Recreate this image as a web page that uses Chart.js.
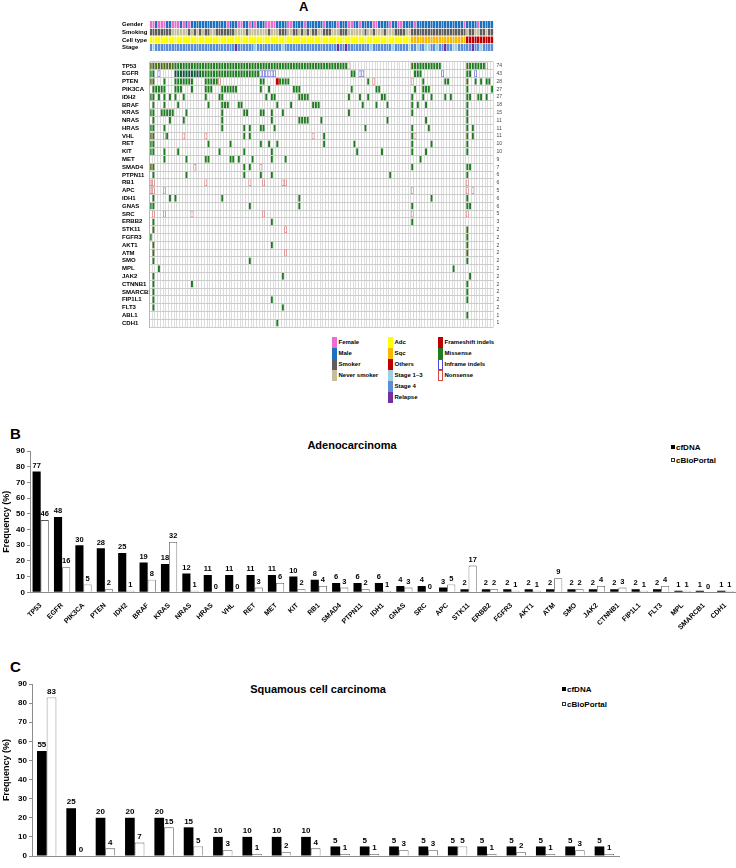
<!DOCTYPE html>
<html>
<head>
<meta charset="utf-8">
<script src="https://cdn.jsdelivr.net/npm/chart.js"></script>
<style>
  body { margin: 0; background: #fff; }
  #page { position: relative; width: 736px; height: 868px; overflow: hidden; background: #fff; }
  canvas, .t, .sw { position: absolute; }
  .t { font-family: 'Liberation Sans', Arial, sans-serif; white-space: nowrap; color: #000; }
  .lg { font-size: 6px; font-weight: bold; line-height: 11px; }
  .sq { display: inline-block; width: 4px; height: 4px; margin-right: 1px; vertical-align: 1px; box-sizing: border-box; }
</style>
</head>
<body>
<div id="page">
  <div class="t" style="left:299px;top:-1px;font-size:13px;font-weight:bold;">A</div>
  <canvas id="anno" width="394" height="38" style="left:120px;top:17px;"></canvas>
  <canvas id="heat" width="394" height="277" style="left:120px;top:56px;"></canvas>
  <div id="legendA"></div>

  <div class="t" style="left:10px;top:425px;font-size:15px;font-weight:bold;">B</div>
  <div class="t" style="left:352px;top:439px;font-size:11px;font-weight:bold;transform:translateX(-50%);">Adenocarcinoma</div>
  <div class="t" style="left:671px;top:443px;font-size:8px;font-weight:bold;"><span class="sq" style="background:#000"></span>cfDNA</div>
  <div class="t" style="left:671px;top:456px;font-size:8px;font-weight:bold;"><span class="sq" style="border:0.7px solid #333;background:#fff"></span>cBioPortal</div>
  <canvas id="adc" width="736" height="200" style="left:0;top:440px;"></canvas>

  <div class="t" style="left:10px;top:658px;font-size:15px;font-weight:bold;">C</div>
  <div class="t" style="left:318px;top:683px;font-size:11px;font-weight:bold;transform:translateX(-50%);">Squamous cell carcinoma</div>
  <div class="t" style="left:562px;top:685px;font-size:8px;font-weight:bold;"><span class="sq" style="background:#000"></span>cfDNA</div>
  <div class="t" style="left:562px;top:700px;font-size:8px;font-weight:bold;"><span class="sq" style="border:0.7px solid #333;background:#fff"></span>cBioPortal</div>
  <canvas id="sqc" width="736" height="192" style="left:0;top:676px;"></canvas>
</div>
<script>
// ---- panel A data ----
const SAMPLE_COUNT = 125;
const annoRowNames = ['Gender', 'Smoking', 'Cell type', 'Stage'];
// segments: letter = category, numbers = sample columns
const genderRow = 'F0-1 F3-5 F8-10 F12 F14 F28 F32-33 F36 F38 F42-45 F50-51 F56 F63 F68 F72-73 F76 F81-82 F87 F90-91 F96 F114 F119';
const smokingRow = 'S0-7 S14 S16 S18 S20-21 S24-30 S35 S43 S47-49 S52-53 S55 S57 S59-60 S63-65 S69-71 S78 S81 S85 S89-92 S95-114 S116-117 S120-121 S123-124';
const cellTypeRow = 'A0-94 Q95-114 O115-124';
const stageRow = 'E1 R31 E38 E48 R68 R71 E80 E88 E94 E97 E100-101 E104 R107 E110-111 R117 E120';

const genes = ['TP53','EGFR','PTEN','PIK3CA','IDH2','BRAF','KRAS','NRAS','HRAS','VHL','RET','KIT','MET','SMAD4','PTPN11','RB1','APC','IDH1','GNAS','SRC','ERBB2','STK11','FGFR3','AKT1','ATM','SMO','MPL','JAK2','CTNNB1','SMARCB1','FIP1L1','FLT3','ABL1','CDH1'];
const geneFreq = [74,43,28,27,27,18,15,11,11,11,10,10,9,7,6,6,5,6,6,5,3,2,2,2,2,2,2,2,2,2,2,2,1,1];
// M missense, N nonsense, I inframe indel, F frameshift indel, D missense+frameshift, T missense+inframe
const mutationRows = [
  'D0-8 M9-71 N72 D95 M96-105 D115 M116-121 N122',
  'M0-1 I3 T9-18 M19-39 I40-45 M73-74 I76-77 M96-98 I106 M115-116 I118',
  'D0-1 M5 M9-15 M20-24 N25 M40-41 F46 M47-50 M79 N81 N95 M99 M107-108 D115 M118 M120 M122-123',
  'M1-5 M9-11 M15 M20-22 M26-31 M40 M43 M52-54 M73 M82-83 M96 M99-101 M115 M124',
  'M0-1 M3 M5 M7 M9 M12 M20 M25-26 M42 M44-45 M54-57 M72 M76 M79 M84-85 M95 M99 M102 M107 M109 M115-116 M119-120 M122',
  'M1 M5 M10 M21 M26-28 M32-33 M46 M51 M59-61 M77 M82 M86 M95 M97 M100 M115',
  'M0-1 M4-8 M13 M26 M34-35 M40-41 M44 M48 M72 M95 M115',
  'M1 M7 M12 M26 M44 M54-57 M62 M86 M100 M115',
  'M0-1 M5 M26 M34 M36 M40-41 M45 M78 M95 M101 M115 M117',
  'D0-1 N5 M6 N12 N20 M34 M36 N59 M63 M95 N96 D115 M117',
  'M0-1 M21 M29 M40 M43 M46 M63 M74 M95 M102 M115',
  'M0-1 M5 M10 M25 M34 M44 M75 M84 M95 M100 M115',
  'M5 M13 M20-21 M29-30 M32 M37 M44 M49 M98',
  'D0-1 N16 M34 M36 N40 M95 M115-116',
  'M1 M13 M34 M40 M44 M87 M115',
  'N0-1 N20 N36 N41 N48-49 N115',
  'N0-1 N5 N95 N115 N117',
  'M1 M7 M9 M26 M54 M102 M115',
  'M0-1 M36 M54 M95 M115-116',
  'N1 N5 N15 N41 N95 N115',
  'M1 M44 M95',
  'D1 N49 D115',
  'M0 M115',
  'D1 M44 M115',
  'D1 N49 D115',
  'M1 M36 M115',
  'M3 M110',
  'M1 M48 M116',
  'M1 M15 M115',
  'M1 M115',
  'M1 M44 M115',
  'M1 M48',
  'M115',
  'M46'
];

// ---- panel B data ----
const adcGenes = ['TP53','EGFR','PIK3CA','PTEN','IDH2','BRAF','KRAS','NRAS','HRAS','VHL','RET','MET','KIT','RB1','SMAD4','PTPN11','IDH1','GNAS','SRC','APC','STK11','ERBB2','FGFR3','AKT1','ATM','SMO','JAK2','CTNNB1','FIP1L1','FLT3','MPL','SMARCB1','CDH1'];
const adcCfdna = [77,48,30,28,25,19,18,12,11,11,11,11,10,8,6,6,6,4,4,3,2,2,2,2,2,2,2,2,2,2,1,1,1];
const adcCbio  = [46,16,5,2,1,8,32,1,0,0,3,6,2,4,3,2,1,3,0,5,17,2,1,1,9,2,4,3,1,4,1,0,1];

// ---- panel C data ----
const sqcGenes = ['TP53','IDH2','EGFR','PTEN','PIK3CA','BRAF','HRAS','VHL','RET','KIT','KRAS','NRAS','MET','SMAD4','APC','IDH1','GNAS','SRC','ERBB2','MPL'];
const sqcCfdna = [55,25,20,20,20,15,10,10,10,10,5,5,5,5,5,5,5,5,5,5];
const sqcCbio  = [83,0,4,7,15,5,3,1,2,4,1,1,3,3,5,1,2,1,3,1];

const FONT = "'Liberation Sans', Arial, sans-serif";
Chart.defaults.font.family = FONT;
Chart.defaults.color = '#000';

function parseSpec(spec) {
  const out = [];
  spec.trim().split(/\s+/).forEach(tok => {
    const code = tok[0];
    const parts = tok.slice(1).split('-').map(Number);
    const end = parts.length > 1 ? parts[1] : parts[0];
    for (let c = parts[0]; c <= end; c++) out.push([code, c]);
  });
  return out;
}
function expandRow(spec, fill) {
  const arr = new Array(SAMPLE_COUNT).fill(fill);
  parseSpec(spec).forEach(([code, c]) => { arr[c] = code; });
  return arr;
}

// ---- annotation chart ----
const annoCats = [
  {row: 'Gender', code: 'F', label: 'Female', color: '#ee6ccd'},
  {row: 'Gender', code: 'M', label: 'Male', color: '#1c72bf'},
  {row: 'Smoking', code: 'S', label: 'Smoker', color: '#5e5e5e'},
  {row: 'Smoking', code: 'N', label: 'Never smoker', color: '#c6bd9c'},
  {row: 'Cell type', code: 'A', label: 'Adc', color: '#ffff00'},
  {row: 'Cell type', code: 'Q', label: 'Sqc', color: '#f9b800'},
  {row: 'Cell type', code: 'O', label: 'Others', color: '#c00000'},
  {row: 'Stage', code: 'E', label: 'Stage 1~3', color: '#9ed0e4'},
  {row: 'Stage', code: 'A', label: 'Stage 4', color: '#5b8ed6'},
  {row: 'Stage', code: 'R', label: 'Relapse', color: '#7030a0'}
];
const annoValues = {
  'Gender': expandRow(genderRow, 'M'),
  'Smoking': expandRow(smokingRow, 'N'),
  'Cell type': expandRow(cellTypeRow, 'A'),
  'Stage': expandRow(stageRow, 'A')
};
const annoDatasets = annoCats.map(cat => ({
  label: cat.label,
  backgroundColor: cat.color,
  borderWidth: 0,
  data: annoValues[cat.row].map((v, c) => v === cat.code ? {y: cat.row, x: [c, c + 1]} : null).filter(Boolean)
}));

new Chart(document.getElementById('anno'), {
  type: 'bar',
  data: {labels: annoRowNames, datasets: annoDatasets},
  options: {
    indexAxis: 'y', responsive: false, animation: false, devicePixelRatio: 1,
    layout: {padding: {left: 2, right: 20.5, top: 3.3, bottom: 3}},
    datasets: {bar: {grouped: false, categoryPercentage: 1, barPercentage: 0.9}},
    plugins: {legend: {display: false}, tooltip: {enabled: false}},
    scales: {
      x: {type: 'linear', min: 0, max: SAMPLE_COUNT, ticks: {display: false, stepSize: 1},
          grid: {color: 'rgba(255,255,255,0.45)', drawTicks: false, z: 1}, border: {display: false},
          afterFit(s) { s.height = 0; }},
      y: {ticks: {font: {size: 6, weight: 'bold'}, crossAlign: 'far', padding: 0, autoSkip: false},
          grid: {display: false, drawTicks: false}, border: {display: false},
          afterFit(s) { s.width = 27.3; }}
    }
  }
});

// ---- mutation heatmap ----
const mutTypes = [
  {code: 'M', label: 'Missense', bg: '#1f7d1f', border: 'rgba(255,255,255,0.25)', bw: {left: 0.4, right: 0.4}},
  {code: 'D', label: 'Missense + Frameshift', bg: '#4a6a16', border: 'rgba(255,255,255,0.2)', bw: {left: 0.4, right: 0.4}},
  {code: 'T', label: 'Missense + Inframe', bg: '#0e5a3c', border: 'rgba(255,255,255,0.2)', bw: {left: 0.4, right: 0.4}},
  {code: 'F', label: 'Frameshift indels', bg: '#c00000', border: '#c00000', bw: 0},
  {code: 'I', label: 'Inframe indels', bg: '#ffffff', border: '#6a6ae0', bw: 0.8},
  {code: 'N', label: 'Nonsense', bg: '#ffffff', border: '#de7474', bw: 0.8}
];
const cells = [];
mutationRows.forEach((spec, g) => {
  parseSpec(spec).forEach(([code, c]) => cells.push({gene: genes[g], code, c}));
});
const heatDatasets = mutTypes.map(t => ({
  label: t.label,
  backgroundColor: t.bg,
  borderColor: t.border,
  borderWidth: t.bw,
  borderSkipped: false,
  data: cells.filter(k => k.code === t.code).map(k => ({y: k.gene, x: [k.c, k.c + 1]}))
}));

new Chart(document.getElementById('heat'), {
  type: 'bar',
  data: {labels: genes, datasets: heatDatasets},
  options: {
    indexAxis: 'y', responsive: false, animation: false, devicePixelRatio: 1,
    layout: {padding: {left: 2, right: 0, top: 3.7, bottom: 4.3}},
    datasets: {bar: {grouped: false, categoryPercentage: 1, barPercentage: 0.86}},
    plugins: {legend: {display: false}, tooltip: {enabled: false}},
    scales: {
      x: {type: 'linear', min: 0, max: SAMPLE_COUNT, ticks: {display: false, stepSize: 1},
          grid: {color: '#dcdcdc', drawTicks: false}, border: {display: false},
          afterFit(s) { s.height = 0; }},
      y: {ticks: {font: {size: 6, weight: 'bold'}, crossAlign: 'far', padding: 0, autoSkip: false},
          grid: {color: '#cccccc', drawTicks: false}, border: {color: '#bbbbbb'},
          afterFit(s) { s.width = 27.3; }},
      y2: {type: 'category', labels: geneFreq.map(String), position: 'right', offset: true,
           ticks: {font: {size: 5}, color: '#444', padding: 3, autoSkip: false},
           grid: {display: false, drawTicks: false}, border: {display: false},
           afterFit(s) { s.width = 20.5; }}
    }
  }
});

// legend for panel A
const legendCols = [
  {x: 332, items: [['Female', '#ee6ccd'], ['Male', '#1c72bf'], ['Smoker', '#5e5e5e'], ['Never smoker', '#c6bd9c']]},
  {x: 388, items: [['Adc', '#ffff00'], ['Sqc', '#f9b800'], ['Others', '#c00000'], ['Stage 1~3', '#9ed0e4'], ['Stage 4', '#5b8ed6'], ['Relapse', '#7030a0']]},
  {x: 438, items: [['Frameshift indels', '#c00000'], ['Missense', '#1f7d1f'], ['Inframe indels', null, '#4a4ad6'], ['Nonsense', null, '#d04848']]}
];
const legendA = document.getElementById('legendA');
legendCols.forEach(col => {
  col.items.forEach((it, i) => {
    const top = 337 + i * 11;
    const sw = document.createElement('div');
    sw.className = 'sw';
    sw.style.cssText = `left:${col.x}px;top:${top}px;width:4.5px;height:11px;box-sizing:border-box;` +
      (it[1] ? `background:${it[1]};` : `background:#fff;border:1px solid ${it[2]};`);
    legendA.appendChild(sw);
    const tx = document.createElement('div');
    tx.className = 't lg';
    tx.style.left = (col.x + 6.5) + 'px';
    tx.style.top = top + 'px';
    tx.textContent = it[0];
    legendA.appendChild(tx);
  });
});

// ---- value labels above bars ----
const valueLabels = {
  id: 'valueLabels',
  afterDatasetsDraw(chart, args, opts) {
    const ctx = chart.ctx;
    ctx.save();
    ctx.font = opts.font;
    ctx.fillStyle = '#000';
    ctx.textAlign = 'center';
    ctx.textBaseline = 'bottom';
    chart.data.datasets.forEach((ds, i) => {
      chart.getDatasetMeta(i).data.forEach((bar, j) => {
        ctx.fillText(ds.data[j], bar.x, bar.y - 2);
      });
    });
    ctx.restore();
  }
};

function freqChart(id, labels, cf, cb, o) {
  return new Chart(document.getElementById(id), {
    type: 'bar',
    data: {
      labels,
      datasets: [
        {label: 'cfDNA', data: cf, backgroundColor: '#000', borderWidth: 0},
        {label: 'cBioPortal', data: cb, backgroundColor: '#fff', borderColor: '#555', borderWidth: 0.8}
      ]
    },
    options: {
      responsive: false, animation: false, devicePixelRatio: 1,
      layout: {padding: o.padding},
      datasets: {bar: {categoryPercentage: o.catPct, barPercentage: 1}},
      plugins: {legend: {display: false}, tooltip: {enabled: false}, valueLabels: {font: o.labelFont}},
      scales: {
        x: {grid: {display: false}, border: {color: '#8c8c8c'},
            ticks: {font: {size: 7, weight: 'bold'}, minRotation: o.rot, maxRotation: o.rot, padding: o.xPad, autoSkip: false},
            afterFit(s) { s.height = o.xHeight; }},
        y: {min: 0, max: 90,
            ticks: {stepSize: 10, font: {size: 8, weight: 'bold'}, padding: 2},
            grid: {drawOnChartArea: false, tickLength: 3, color: '#8c8c8c'}, border: {color: '#8c8c8c'},
            title: {display: true, text: 'Frequency (%)', font: {size: 9, weight: 'bold'}, padding: {top: 1, bottom: 0}},
            afterFit(s) { s.width = o.yWidth; }}
      }
    },
    plugins: [valueLabels]
  });
}

freqChart('adc', adcGenes, adcCfdna, adcCbio, {
  padding: {top: 11, right: 0, bottom: 3.7, left: 0},
  catPct: 0.76, rot: 45, xPad: 1, xHeight: 44, yWidth: 30, labelFont: `bold 7.5px ${FONT}`
});
freqChart('sqc', sqcGenes, sqcCfdna, sqcCbio, {
  padding: {top: 8, right: 117, bottom: 2, left: 0},
  catPct: 0.66, rot: 0, xPad: 1, xHeight: 10, yWidth: 32, labelFont: `bold 8px ${FONT}`
});
</script>
</body>
</html>
